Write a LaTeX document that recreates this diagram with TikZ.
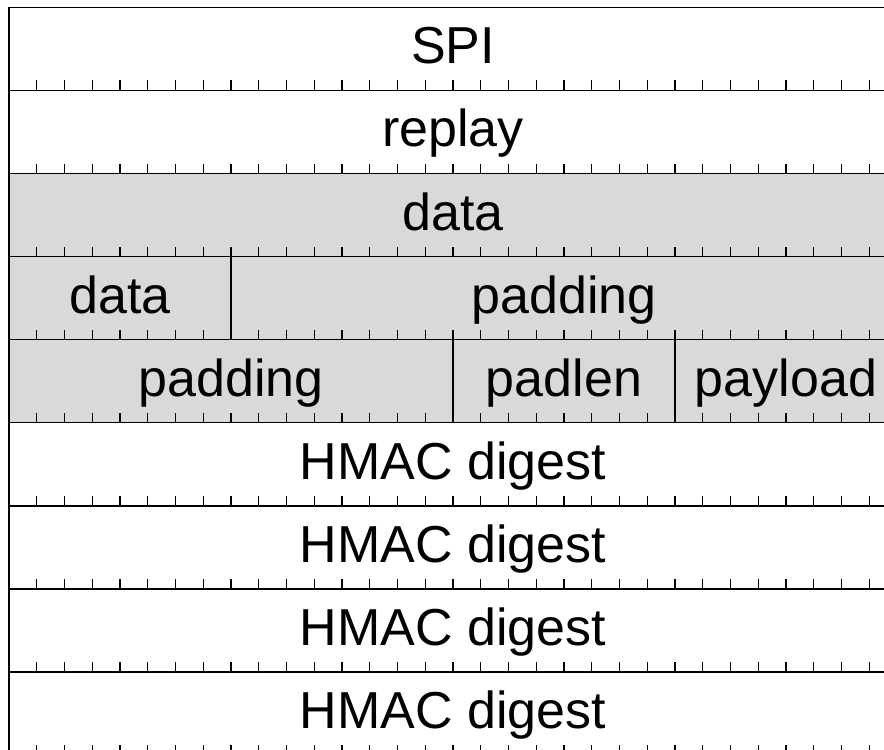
\documentclass[tikz,border=0pt]{standalone}
\usepackage{fontspec}
\setmainfont{Liberation Sans}
\usetikzlibrary{positioning}

\begin{document}
\begin{tikzpicture}[x=20.8125pt,y=-62.325pt,
  lbl/.style={anchor=base,inner sep=0pt,font=\fontsize{39}{41}\selectfont}]
  \def\N{32}   % bits per word
  \def\R{9}    % words
  \def\tk{0.12}

  \useasboundingbox (-0.324,-0.088) rectangle (31.532,8.937);

  % shaded words
  \filldraw[draw=none,fill=black!15] (0,2) rectangle (\N,5);

  % word borders and bit ticks
  \foreach \r in {1,...,\R} {
    \draw[line width=1pt] (0,\r) -- (\N,\r);
    \foreach \k in {1,...,31}
      \draw[line width=0.8pt] (\k,\r) -- (\k,\r-\tk);
  }
  \draw[line width=1pt] (0,0) rectangle (\N,\R);

  % field borders
  \draw[line width=1pt] (8,3) -- (8,4) (16,4) -- (16,5) (24,4) -- (24,5);

  % labels
  \foreach \r/\a/\b/\t [count=\i] in {0/0/32/SPI,1/0/32/replay,2/0/32/data,
      3/0/8/data,3/8/32/padding,4/0/16/padding,4/16/24/padlen,4/24/32/payload,
      5/0/32/HMAC digest,6/0/32/HMAC digest,7/0/32/HMAC digest,8/0/32/HMAC digest}
    \node[lbl] (f\i) at ({(\a+\b)/2},\r+0.68) {\t};
\end{tikzpicture}
\end{document}
